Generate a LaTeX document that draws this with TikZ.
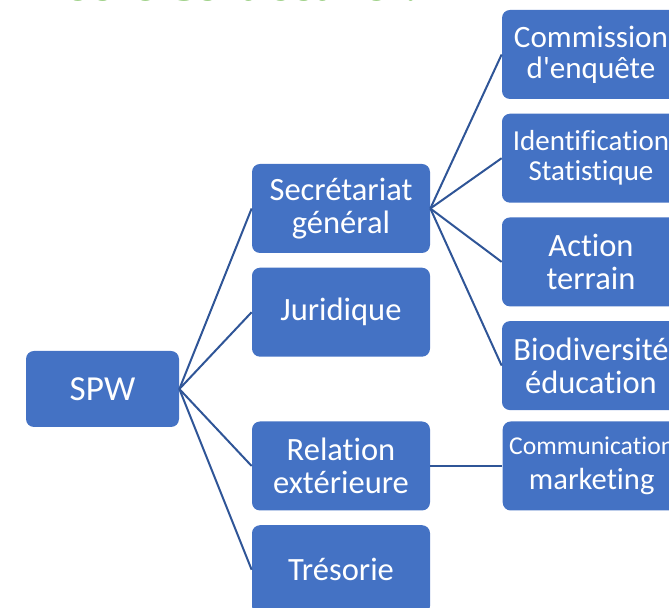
\documentclass[tikz,border=0pt]{standalone}
\usepackage{fontspec}
\setmainfont{Carlito}[Ligatures=NoCommon]
\newfontfamily\titlefont{DejaVu Serif}
\usetikzlibrary{positioning}
\definecolor{boxblue}{HTML}{4472C4}
\definecolor{linkblue}{HTML}{2F5597}
\definecolor{titlegreen}{HTML}{5BB035}
\def\bw{3.56cm}
\def\bh{1.78cm}
\def\gap{0.28cm}
\tikzset{
    unit/.style = {
        fill=boxblue, rounded corners=0.16cm, minimum width=\bw, minimum height=\bh,
        align=center, text=white, inner sep=1pt, font=\fontsize{18.5}{18.5}\selectfont
    },
    link/.style = {
        draw=linkblue, line width=0.04cm
    },
}

\begin{document}
\begin{tikzpicture}
        \useasboundingbox (0,0) rectangle (13.38,-12.16);

        % Title, cut by the top edge
        \node[anchor=base west, inner sep=0pt, text=titlegreen, font=\titlefont\bfseries\fontsize{23.5}{25}\selectfont] (title) at (0.52,-0.02) {Notre structure :};

        % Place the blocks
        \node[unit, minimum width=3.06cm, minimum height=1.52cm, font=\fontsize{20}{20}\selectfont] (spw) at (2.05,-7.78) {SPW};

        \node[unit] (secgen) at (6.82,-4.17) {Secrétariat\\général};
        \node[unit, below=\gap of secgen] (juri) {Juridique};
        \node[unit] (relext) at (6.82,-9.32) {Relation\\extérieure};
        \node[unit, below=\gap of relext] (treso) {Trésorie};

        \node[unit, font=\fontsize{17.7}{17.7}\selectfont] (commis) at (11.82,-1.09) {Commission\\d\textquotesingle enquête};
        \node[unit, below=\gap of commis, font=\fontsize{16.5}{17}\selectfont] (ident) {Identification\\Statistique};
        \node[unit, below=\gap of ident] (action) {Action\\terrain};
        \node[unit, below=\gap of action] (biodiv) {Biodiversité\\éducation};
        \node[unit, right=1.44cm of relext] (commun) {\fontsize{14.6}{17}\selectfont Communication\\[0.05cm]\fontsize{17.4}{17.4}\selectfont marketing};

        % Draw connections
        \foreach \x in {secgen, juri, relext, treso}{
            \draw[link] (spw.east) -- (\x.west);
        }
        \foreach \x in {commis, ident, action, biodiv}{
            \draw[link] (secgen.east) -- (\x.west);
        }
        \draw[link] (relext.east) -- (commun.west);
\end{tikzpicture}
\end{document}
